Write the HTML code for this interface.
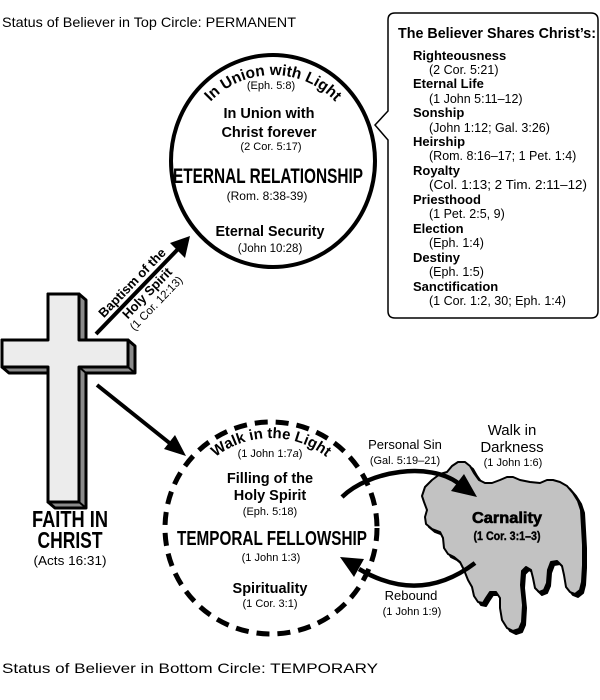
<!DOCTYPE html>
<html><head><meta charset="utf-8"><style>
html,body{margin:0;padding:0;background:#fff;}
svg{display:block;}
text{font-family:"Liberation Sans",Arial,sans-serif;fill:#000;}
.b{font-weight:bold;}
</style></head><body>
<svg width="600" height="700" viewBox="0 0 600 700" xmlns="http://www.w3.org/2000/svg">
<defs>
<path id="arcTop" d="M187,161 A86,86 0 0 1 359,161"/>
<path id="arcBot" d="M181,528 A90,90 0 0 1 361,528"/>
</defs>

<!-- status texts -->
<text x="2" y="27" font-size="14" textLength="294" lengthAdjust="spacingAndGlyphs">Status of Believer in Top Circle: PERMANENT</text>
<text x="2" y="673" font-size="14" textLength="376" lengthAdjust="spacingAndGlyphs">Status of Believer in Bottom Circle: TEMPORARY</text>

<!-- callout box -->
<path d="M395,13 H591 Q598,13 598,20 V311 Q598,318 591,318 H395 Q388,318 388,311 V140 L375,125 L388,111 V20 Q388,13 395,13 Z" fill="#fff" stroke="#000" stroke-width="1.5"/>
<text x="398" y="38" font-size="15" class="b" textLength="198" lengthAdjust="spacingAndGlyphs">The Believer Shares Christ’s:</text>
<g font-size="13" class="b">
<text x="413" y="60">Righteousness</text>
<text x="413" y="88">Eternal Life</text>
<text x="413" y="117">Sonship</text>
<text x="413" y="146">Heirship</text>
<text x="413" y="175">Royalty</text>
<text x="413" y="204">Priesthood</text>
<text x="413" y="233">Election</text>
<text x="413" y="262">Destiny</text>
<text x="413" y="291">Sanctification</text>
</g>
<g font-size="12.5">
<text x="429" y="74">(2 Cor. 5:21)</text>
<text x="429" y="103">(1 John 5:11–12)</text>
<text x="429" y="132">(John 1:12; Gal. 3:26)</text>
<text x="429" y="160">(Rom. 8:16–17; 1 Pet. 1:4)</text>
<text x="429" y="189" textLength="158" lengthAdjust="spacingAndGlyphs">(Col. 1:13; 2 Tim. 2:11–12)</text>
<text x="429" y="218">(1 Pet. 2:5, 9)</text>
<text x="429" y="247">(Eph. 1:4)</text>
<text x="429" y="276">(Eph. 1:5)</text>
<text x="429" y="305">(1 Cor. 1:2, 30; Eph. 1:4)</text>
</g>

<!-- top circle -->
<ellipse cx="273" cy="161" rx="102" ry="106" fill="#fff" stroke="#000" stroke-width="4"/>
<text font-size="15.5" class="b"><textPath href="#arcTop" startOffset="50%" text-anchor="middle">In Union with Light</textPath></text>
<g text-anchor="middle">
<text x="271" y="89" font-size="11">(Eph. 5:8)</text>
<text x="269" y="118" font-size="14.5" class="b">In Union with</text>
<text x="269" y="137" font-size="14.5" class="b">Christ forever</text>
<text x="271" y="150" font-size="11">(2 Cor. 5:17)</text>
<text x="268" y="183" font-size="21" class="b" textLength="190" lengthAdjust="spacingAndGlyphs">ETERNAL RELATIONSHIP</text>
<text x="267" y="200" font-size="12">(Rom. 8:38-39)</text>
<text x="270" y="236" font-size="14.5" class="b" textLength="109" lengthAdjust="spacingAndGlyphs">Eternal Security</text>
<text x="270" y="252" font-size="11.5">(John 10:28)</text>
</g>

<!-- cross -->
<polygon points="48,294 79,294 86,300 86,340 128,340 135,346 135,373 86,373 86,508 55,508 48,502 48,373 9,373 2,367 2,340 48,340" fill="#8a8a8a" stroke="#000" stroke-width="3" stroke-linejoin="round"/>
<polygon points="48,294 79,294 79,340 128,340 128,367 79,367 79,502 48,502 48,367 2,367 2,340 48,340" fill="#ececec" stroke="#000" stroke-width="3" stroke-linejoin="round"/>
<line x1="128" y1="367" x2="135" y2="373" stroke="#000" stroke-width="2"/>
<line x1="79" y1="367" x2="86" y2="373" stroke="#000" stroke-width="2"/>
<line x1="79" y1="502" x2="86" y2="508" stroke="#000" stroke-width="2"/>
<g text-anchor="middle">
<text x="70" y="527" font-size="23" class="b" textLength="76" lengthAdjust="spacingAndGlyphs">FAITH IN</text>
<text x="70" y="548" font-size="23" class="b" textLength="65" lengthAdjust="spacingAndGlyphs">CHRIST</text>
<text x="70" y="565" font-size="13" textLength="73" lengthAdjust="spacingAndGlyphs">(Acts 16:31)</text>
</g>

<!-- baptism arrow -->
<line x1="96" y1="334" x2="180" y2="247" stroke="#000" stroke-width="4"/>
<polygon points="190,236 185,258 170,243" fill="#000"/>
<g transform="translate(143,285) rotate(-46)" text-anchor="middle">
<text x="-6" y="-5" font-size="13" class="b">Baptism of the</text>
<text x="-3" y="13" font-size="13" class="b">Holy Spirit</text>
<text x="-4" y="26" font-size="11.5">(1 Cor. 12:13)</text>
</g>

<!-- arrow to dashed circle -->
<line x1="97" y1="385" x2="172" y2="445" stroke="#000" stroke-width="4"/>
<polygon points="186,456 164,449 175,435" fill="#000"/>

<!-- bottom dashed circle -->
<circle cx="271" cy="528" r="106" fill="none" stroke="#000" stroke-width="5" stroke-dasharray="13 8"/>
<text font-size="15" class="b"><textPath href="#arcBot" startOffset="50%" text-anchor="middle">Walk in the Light</textPath></text>
<g text-anchor="middle">
<text x="270" y="457" font-size="11">(1 John 1:7<tspan font-style="italic">a</tspan>)</text>
<text x="270" y="483" font-size="14.5" class="b">Filling of the</text>
<text x="270" y="500" font-size="14.5" class="b">Holy Spirit</text>
<text x="270" y="515" font-size="11">(Eph. 5:18)</text>
<text x="272" y="545" font-size="20" class="b" textLength="190" lengthAdjust="spacingAndGlyphs">TEMPORAL FELLOWSHIP</text>
<text x="271" y="561" font-size="11">(1 John 1:3)</text>
<text x="270" y="593" font-size="14.5" class="b">Spirituality</text>
<text x="270" y="607" font-size="11">(1 Cor. 3:1)</text>
</g>

<!-- blob -->
<path transform="translate(3,3)" d="M425,487 L432,480 L440,474 L447,472 L452,466 L458,462 L465,462 L470,466 L474,473 L479,480 L485,483 L492,483 L500,480 L507,477 L513,477 L520,480 L530,482 L540,483 L547,480 L553,480 L560,482 L567,486 L573,493 L578,501 L581,510 L582,527 L583,545 L583,565 L582,582 L580,590 L575,594 L570,592 L566,587 L564,575 L562,566 L557,561 L551,562 L548,570 L547,583 L544,590 L539,592 L535,588 L533,578 L531,570 L526,567 L522,571 L521,585 L523,605 L522,622 L519,629 L513,631 L507,628 L502,620 L500,608 L500,598 L496,592 L490,592 L486,598 L483,603 L478,602 L474,596 L472,587 L468,580 L464,570 L460,562 L454,557 L448,554 L444,548 L443,538 L440,532 L432,529 L426,524 L425,517 L427,510 L424,502 L422,496 Z" fill="#000" stroke="#000" stroke-width="2" stroke-linejoin="round"/>
<path d="M425,487 L432,480 L440,474 L447,472 L452,466 L458,462 L465,462 L470,466 L474,473 L479,480 L485,483 L492,483 L500,480 L507,477 L513,477 L520,480 L530,482 L540,483 L547,480 L553,480 L560,482 L567,486 L573,493 L578,501 L581,510 L582,527 L583,545 L583,565 L582,582 L580,590 L575,594 L570,592 L566,587 L564,575 L562,566 L557,561 L551,562 L548,570 L547,583 L544,590 L539,592 L535,588 L533,578 L531,570 L526,567 L522,571 L521,585 L523,605 L522,622 L519,629 L513,631 L507,628 L502,620 L500,608 L500,598 L496,592 L490,592 L486,598 L483,603 L478,602 L474,596 L472,587 L468,580 L464,570 L460,562 L454,557 L448,554 L444,548 L443,538 L440,532 L432,529 L426,524 L425,517 L427,510 L424,502 L422,496 Z" fill="#c2c2c2" stroke="#000" stroke-width="2" stroke-linejoin="round"/>
<g text-anchor="middle">
<text x="507" y="523" font-size="15.5" class="b" stroke="#000" stroke-width="0.6" textLength="70" lengthAdjust="spacingAndGlyphs">Carnality</text>
<text x="507" y="540" font-size="12" class="b" stroke="#000" stroke-width="0.4" textLength="67" lengthAdjust="spacingAndGlyphs">(1 Cor. 3:1–3)</text>
</g>

<!-- personal sin arc -->
<path d="M342,497 C370,470 430,462 458,483" fill="none" stroke="#000" stroke-width="4.5"/>
<polygon points="477,497 451,491 464,474" fill="#000"/>
<!-- rebound arc -->
<path d="M475,563 Q420,605 359,569" fill="none" stroke="#000" stroke-width="4.5"/>
<polygon points="340,557 364,559 354,577" fill="#000"/>

<g text-anchor="middle">
<text x="405" y="449" font-size="13">Personal Sin</text>
<text x="405" y="464" font-size="11">(Gal. 5:19–21)</text>
<text x="512" y="435" font-size="15">Walk in</text>
<text x="512" y="452" font-size="15">Darkness</text>
<text x="513" y="466" font-size="11">(1 John 1:6)</text>
<text x="411" y="600" font-size="13">Rebound</text>
<text x="412" y="615" font-size="11">(1 John 1:9)</text>
</g>
</svg>
</body></html>
